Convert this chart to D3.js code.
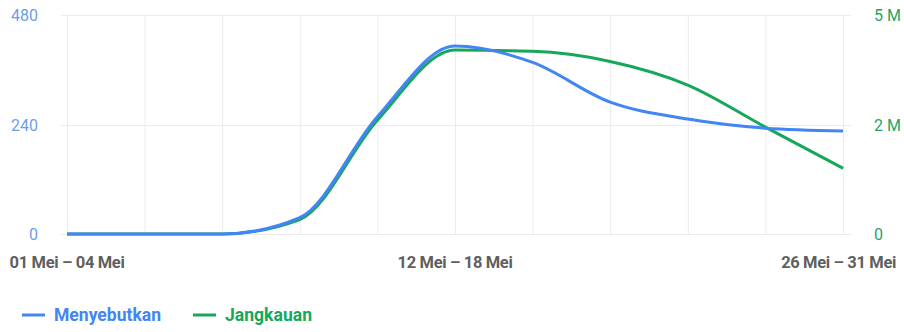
<!DOCTYPE html>
<html>
<head>
<meta charset="utf-8">
<script src="https://cdn.jsdelivr.net/npm/d3@7"></script>
<style>
  html, body { margin: 0; padding: 0; background: #fff; }
  svg { display: block; font-family: Roboto, "Noto Sans", sans-serif; }
</style>
</head>
<body>
<svg id="chart" width="904" height="332"></svg>
<script>
// Period labels shown under the x axis (index -> label)
const periodLabels = [
  [0, "01 Mei – 04 Mei"],
  [5, "12 Mei – 18 Mei"],
  [10, "26 Mei – 31 Mei"]
];
const periodCount = 11;

// Mentions (left axis)
const mentions = [0, 0, 0, 36, 257, 412, 376, 289, 252, 232, 226];
// Reach (right axis)
const reach = [0, 0, 0, 330000, 2600000, 4200000, 4170000, 3940000, 3400000, 2440000, 1500000];

const leftTicks = [0, 240, 480];
const rightTicks = [0, 2500000, 5000000];
const rightTickLabels = ["0", "2 M", "5 M"];

const seriesNames = ["Menyebutkan", "Jangkauan"];
const blue = "#4285f4";
const green = "#16a75b";

const W = 904;
const svg = d3.select("#chart");

const x = d3.scalePoint()
  .domain(d3.range(periodCount))
  .range([67, 843]);

const yLeft = d3.scaleLinear().domain([0, 480]).range([234, 15]);
const yRight = d3.scaleLinear().domain([0, 5000000]).range([234, 15]);

// Gridlines
const grid = svg.append("g").attr("stroke", "#ebebeb").attr("stroke-width", 1);
grid.selectAll("line.v")
  .data(x.domain())
  .join("line")
  .attr("class", "v")
  .attr("x1", d => x(d) + 0.5).attr("x2", d => x(d) + 0.5)
  .attr("y1", yLeft(480)).attr("y2", yLeft(0));
grid.selectAll("line.h")
  .data(leftTicks)
  .join("line")
  .attr("class", "h")
  .attr("x1", 61).attr("x2", 851)
  .attr("y1", d => Math.round(yLeft(d)) + 0.5).attr("y2", d => Math.round(yLeft(d)) + 0.5);

// Left axis labels
const leftAxis = d3.axisLeft(yLeft).tickValues(leftTicks).tickSize(0).tickPadding(0);
const gl = svg.append("g").attr("transform", "translate(38,0)").call(leftAxis);
gl.select(".domain").remove();
gl.selectAll("text")
  .attr("fill", "#6d9eeb")
  .attr("font-size", 16)
  .attr("font-family", "Roboto, sans-serif")
  .attr("dy", "0.36em");

// Right axis labels
const rightAxis = d3.axisRight(yRight).tickValues(rightTicks).tickSize(0).tickPadding(0)
  .tickFormat((d, i) => rightTickLabels[i]);
const gr = svg.append("g").attr("transform", "translate(874,0)").call(rightAxis);
gr.select(".domain").remove();
gr.selectAll("text")
  .attr("fill", "#1fa463")
  .attr("font-size", 16)
  .attr("font-family", "Roboto, sans-serif")
  .attr("dy", "0.36em");

// Bottom labels; the last one is right-aligned to stay inside the canvas
const rightEdge = W - 8;
const xLabels = svg.append("g").selectAll("text")
  .data(periodLabels)
  .join("text")
  .attr("x", d => x(d[0]))
  .attr("y", 268)
  .attr("text-anchor", "middle")
  .attr("fill", "#5f5f5f")
  .attr("font-size", 16.5)
  .attr("font-weight", 700)
  .attr("letter-spacing", "-0.35")
  .text(d => d[1]);
xLabels.each(function(d) {
  const w = this.getComputedTextLength();
  if (x(d[0]) + w / 2 > rightEdge) {
    d3.select(this).attr("x", rightEdge).attr("text-anchor", "end");
  }
});

// Series lines
const curve = d3.curveMonotoneX;
const lineLeft = d3.line()
  .x((d, i) => x(i))
  .y(d => yLeft(d))
  .curve(curve);
const lineRight = d3.line()
  .x((d, i) => x(i))
  .y(d => yRight(d))
  .curve(curve);

svg.append("path")
  .datum(reach)
  .attr("d", lineRight)
  .attr("fill", "none")
  .attr("stroke", green)
  .attr("stroke-width", 3)
  .attr("stroke-linejoin", "round");

svg.append("path")
  .datum(mentions)
  .attr("d", lineLeft)
  .attr("fill", "none")
  .attr("stroke", blue)
  .attr("stroke-width", 3)
  .attr("stroke-linejoin", "round");

// Legend
const legendItems = [
  { name: seriesNames[0], color: blue, x: 22, w: 107 },
  { name: seriesNames[1], color: green, x: 193, w: 87 }
];
const lg = svg.append("g").selectAll("g")
  .data(legendItems)
  .join("g")
  .attr("transform", d => `translate(${d.x},315)`);
lg.append("line")
  .attr("x1", 0).attr("x2", 23)
  .attr("stroke", d => d.color)
  .attr("stroke-width", 3);
lg.append("text")
  .attr("x", 32)
  .attr("dy", "0.36em")
  .attr("fill", d => d.color)
  .attr("font-size", 18)
  .attr("font-weight", 700)
  .attr("textLength", d => d.w)
  .attr("lengthAdjust", "spacingAndGlyphs")
  .text(d => d.name);
</script>
</body>
</html>
